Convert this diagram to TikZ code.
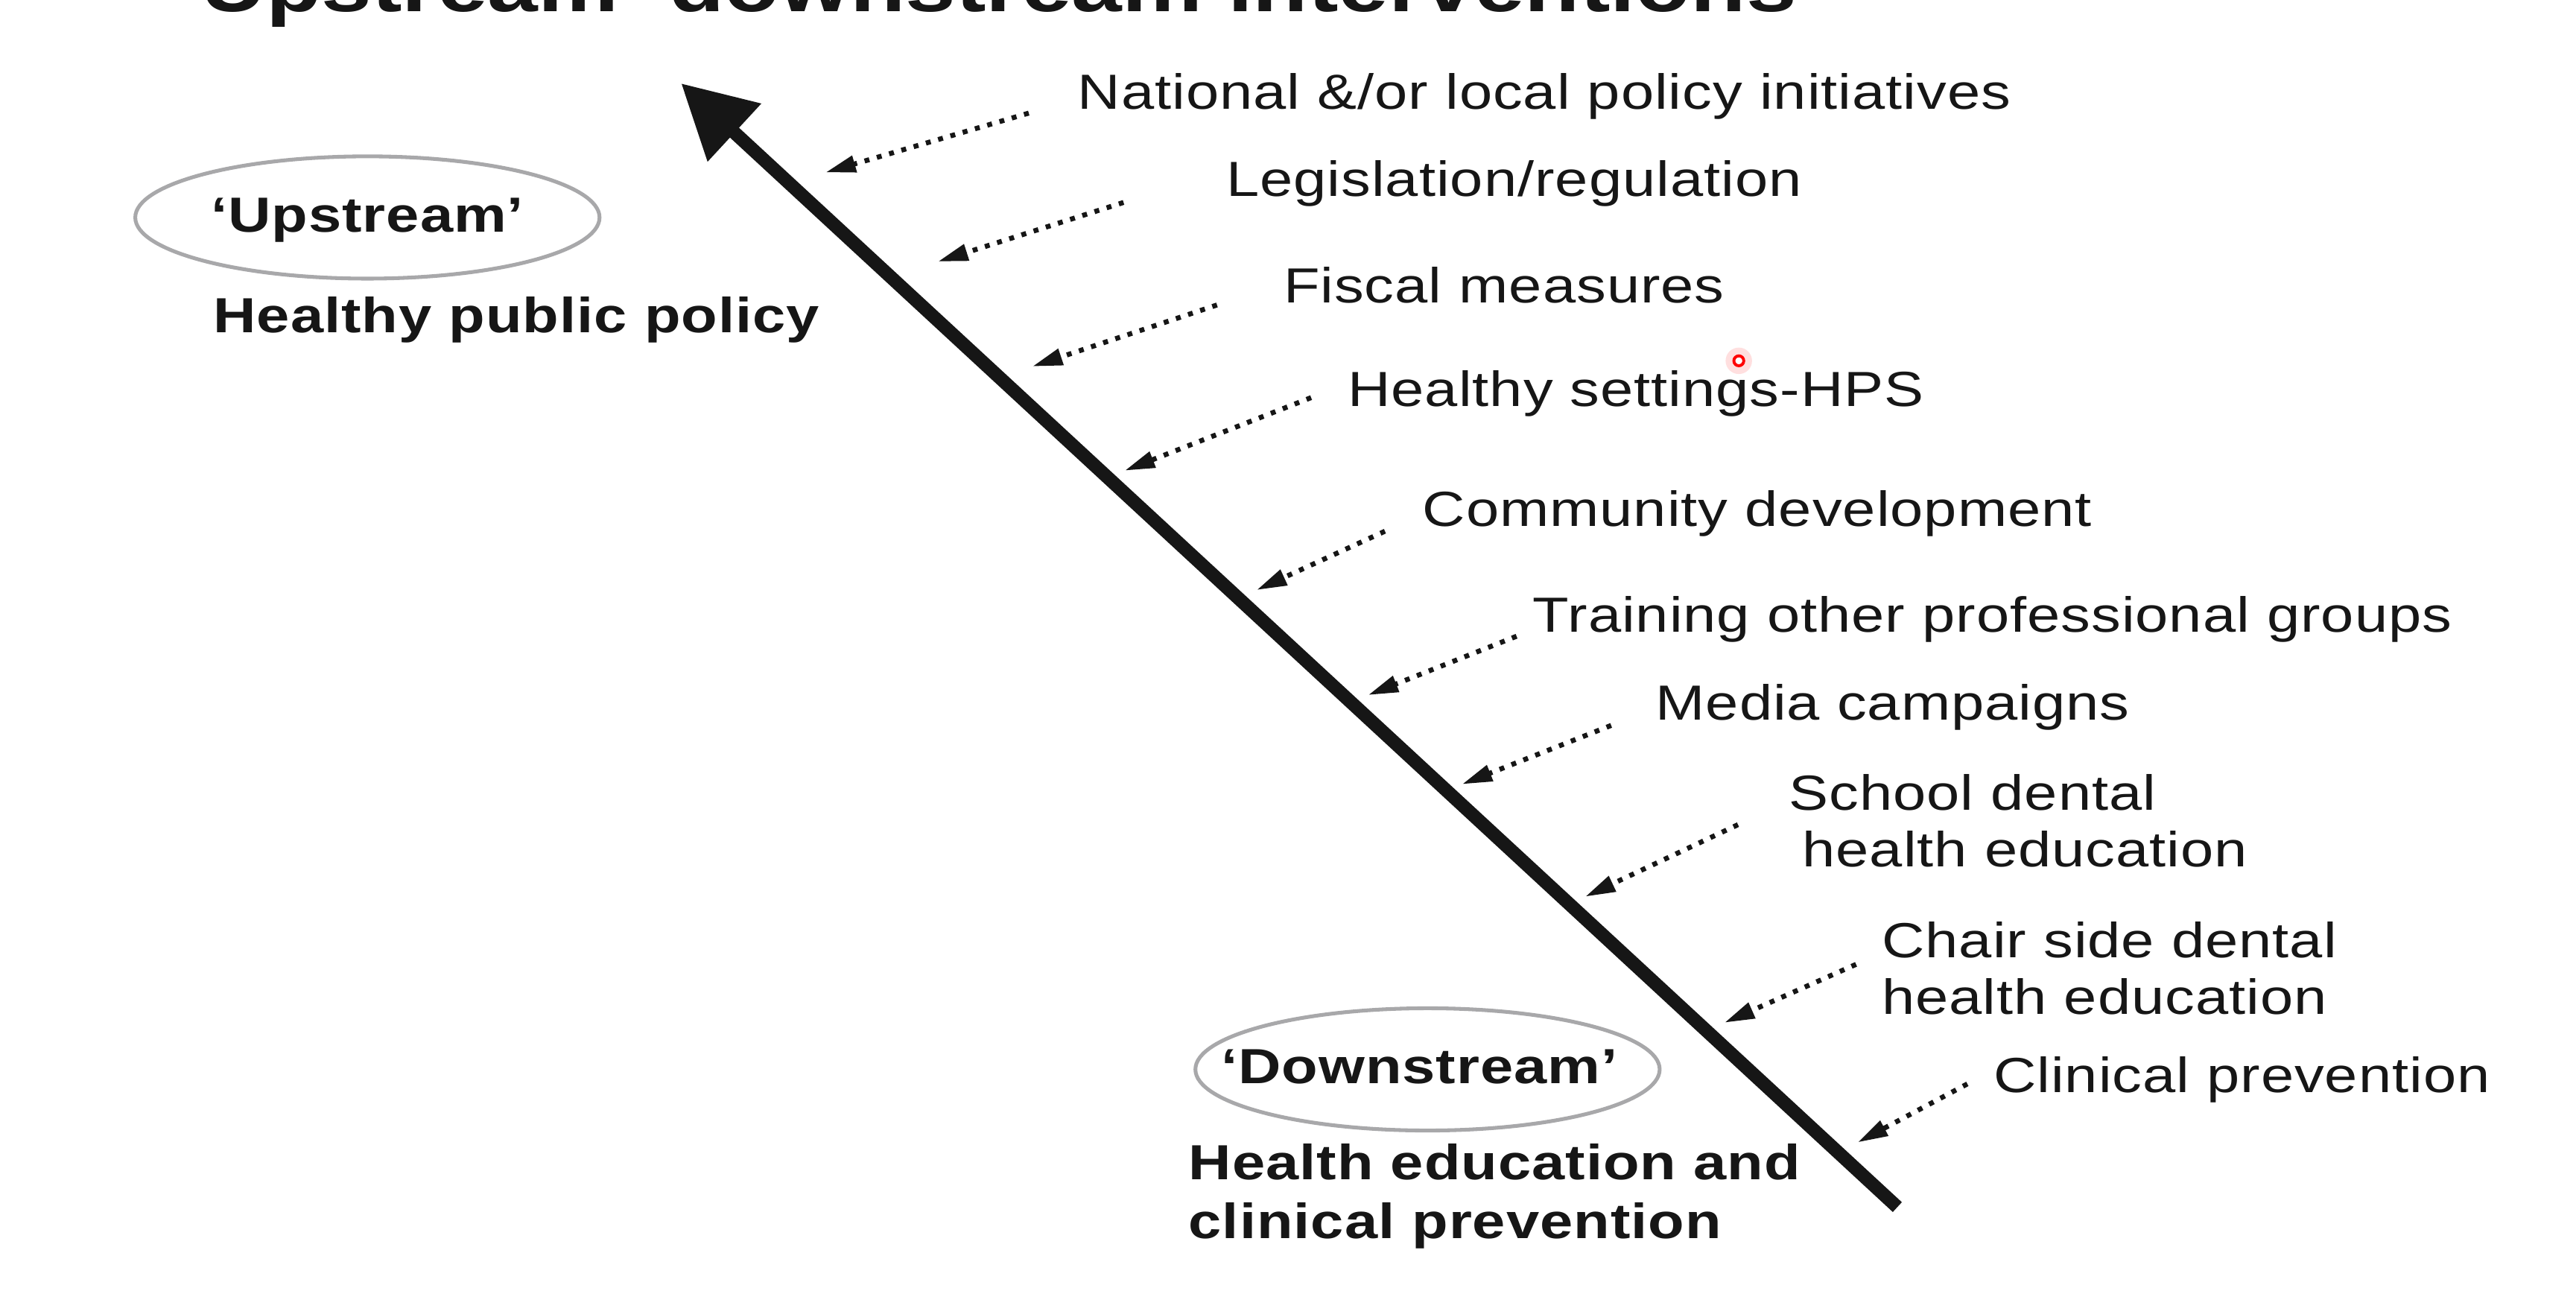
\documentclass[tikz,border=0pt]{standalone}
\usepackage{fontspec}
\setmainfont{Liberation Sans}[FakeStretch=1.2,LetterSpace=1.5]
\newfontfamily\titlefont{Liberation Sans}[FakeStretch=1.2]
\usetikzlibrary{positioning,arrows.meta,shapes.geometric}

\definecolor{inkgrey}{RGB}{22,22,22}
\definecolor{ovalgrey}{RGB}{168,168,170}

\tikzset{
  stage/.style={anchor=base west, inner sep=0pt, text=inkgrey, align=left,
    font=\fontsize{8.5}{9.8}\selectfont},
  heading/.style={anchor=base west, inner sep=0pt, text=inkgrey, align=left,
    font=\bfseries\fontsize{8.5}{10.1}\selectfont},
  oval/.style={ellipse, draw=ovalgrey, line width=0.65pt, inner sep=0pt,
    minimum width=2.81cm, minimum height=0.74cm},
  intervention/.style={draw=inkgrey, line width=0.85pt, dash pattern=on 0.85pt off 1.35pt,
    -{Triangle[length=5.2pt,width=2.8pt]}},
  stream/.style={draw=inkgrey, line width=2.3pt, -{Triangle[length=12.5pt,width=13pt]}}
}

\begin{document}
\begin{tikzpicture}[x=0.01cm, y=-0.01cm]
    \useasboundingbox (0,0) rectangle (1560,781.4);

    % title, cut at the top edge
    \node[anchor=base west, inner sep=0pt, text=inkgrey,
      font=\titlefont\bfseries\fontsize{13}{15}\selectfont] (title) at (121,7)
      {Upstream–downstream interventions};

    % the stream
    \coordinate (river_bottom) at (1149,731);
    \coordinate (river_top) at (412.5,50.5);
    \draw[stream] (river_bottom) -- (river_top);

    % the two ends
    \node[oval] (upstream_oval) at (222.5,131.7) {};
    \node[heading, anchor=base] (upstream) at (222.5,140.6) {‘Upstream’};
    \node[heading] (policy) at (128.6,201.5) {Healthy public policy};
    \node[oval] (downstream_oval) at (864.5,647.6) {};
    \node[heading, anchor=base] (downstream) at (859.5,656.3) {‘Downstream’};
    \node[heading] (clinical_care) at (719.2,749.9) {Health education and\\clinical prevention};

    % interventions
    \node[stage] (national) at (652,65.9) {National \&/or local policy initiatives};
    \node[stage] (legislation) at (742,119) {Legislation/regulation};
    \node[stage] (fiscal) at (776.6,183.2) {Fiscal measures};
    \node[stage] (settings) at (815.5,246.2) {Healthy settings-HPS};
    \node[stage] (community) at (860.8,318.5) {Community development};
    \node[stage] (training) at (927.7,382.6) {Training other professional groups};
    \node[stage] (media) at (1002,436) {Media campaigns};
    \node[stage] (school) at (1082.7,525) {School dental\\\hspace*{2.3pt}health education};
    \node[stage] (chair) at (1139,614.4) {Chair side dental\\health education};
    \node[stage] (clinical) at (1206.6,661.6) {Clinical prevention};

    \coordinate (national_from) at (623,68.5);
    \coordinate (national_to) at (500,104.4);
    \coordinate (legislation_from) at (680.4,122.6);
    \coordinate (legislation_to) at (568,158.4);
    \coordinate (fiscal_from) at (737,184.7);
    \coordinate (fiscal_to) at (625.2,221.9);
    \coordinate (settings_from) at (794,240.8);
    \coordinate (settings_to) at (681.1,285);
    \coordinate (community_from) at (838.7,321.7);
    \coordinate (community_to) at (761,357.3);
    \coordinate (training_from) at (918.4,385.3);
    \coordinate (training_to) at (828.5,420.9);
    \coordinate (media_from) at (975.7,439.3);
    \coordinate (media_to) at (885.4,474.9);
    \coordinate (school_from) at (1052.5,499.4);
    \coordinate (school_to) at (960,543);
    \coordinate (chair_from) at (1124,584);
    \coordinate (chair_to) at (1044.3,619.3);
    \coordinate (clinical_from) at (1191.4,656.4);
    \coordinate (clinical_to) at (1125,691.8);

    \draw[intervention] (national_from) -- (national_to);
    \draw[intervention] (legislation_from) -- (legislation_to);
    \draw[intervention] (fiscal_from) -- (fiscal_to);
    \draw[intervention] (settings_from) -- (settings_to);
    \draw[intervention] (community_from) -- (community_to);
    \draw[intervention] (training_from) -- (training_to);
    \draw[intervention] (media_from) -- (media_to);
    \draw[intervention] (school_from) -- (school_to);
    \draw[intervention] (chair_from) -- (chair_to);
    \draw[intervention] (clinical_from) -- (clinical_to);

    % pointer mark
    \fill[red!25, opacity=0.5] (1053,218.5) circle (0.08cm);
    \draw[red, line width=0.5pt, fill=white] (1053,218.5) circle (0.03cm);
\end{tikzpicture}
\end{document}
